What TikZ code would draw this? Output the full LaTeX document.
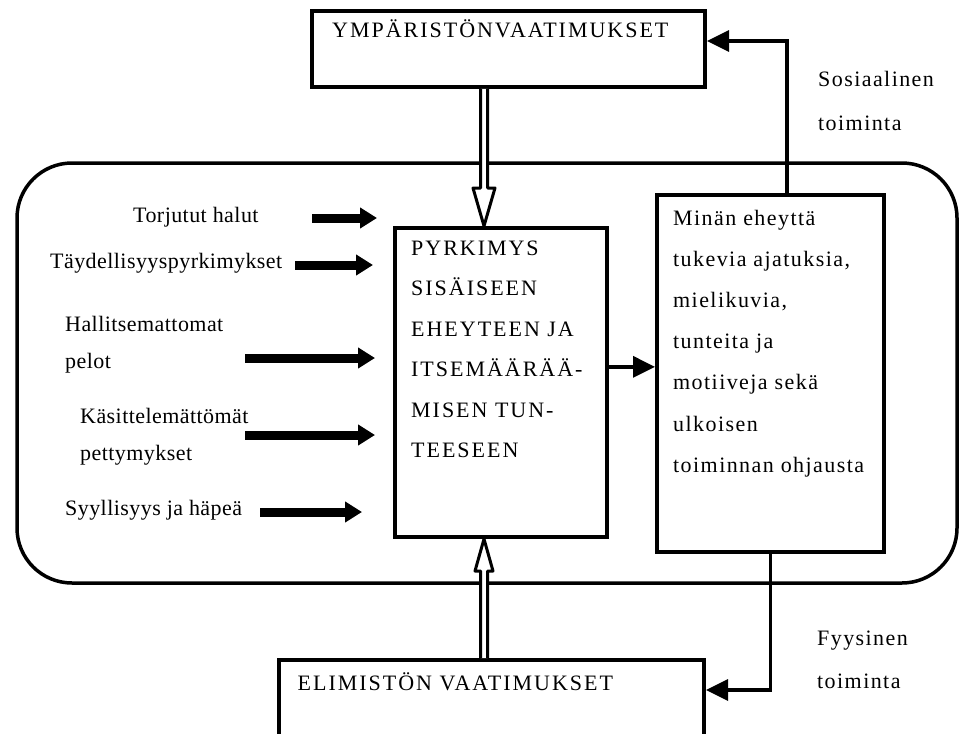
\documentclass[tikz,border=0pt]{standalone}
\usepackage{fontspec}
\setmainfont{Liberation Serif}
\newfontfamily\leftfont[LetterSpace=2]{Liberation Serif}
\newfontfamily\bodyfont[LetterSpace=6.5]{Liberation Serif}
\newfontfamily\capsfont[LetterSpace=9]{Liberation Serif}
\usetikzlibrary{arrows.meta,calc}

\begin{document}
\begin{tikzpicture}[x=1pt,y=-1pt,
  box/.style={draw, line width=4pt, inner sep=0pt, anchor=north west, fill=white},
  frame/.style={draw, line width=3.5pt, rounded corners=55pt, inner sep=0pt},
  lbl/.style={anchor=base west, inner sep=0pt, font=\leftfont\fontsize{22pt}{26pt}\selectfont},
  body/.style={anchor=base west, inner sep=0pt, font=\bodyfont\fontsize{22pt}{26pt}\selectfont},
  caps/.style={anchor=base west, inner sep=0pt, font=\capsfont\fontsize{22pt}{26pt}\selectfont},
  conn/.style={line width=3.5pt, -{Triangle[length=22pt,width=21pt]}},
  fat/.style={line width=9pt, -{Triangle[length=17pt,width=20pt]}},
  hollow/.style={draw, fill=white, line width=3pt, line join=round}]

\useasboundingbox (0,0) rectangle (960,733);
\clip (0,0) rectangle (960,733);

% outer rounded frame
\node[frame, minimum width=940pt, minimum height=420pt] (frame) at (487,373) {};

% boxes
\node[box, minimum width=393pt, minimum height=76pt] (ymp) at (310,9) {};
\node[box, minimum width=212pt, minimum height=309pt] (mid) at (393,226) {};
\node[box, minimum width=227pt, minimum height=357pt] (right) at (655,193) {};
\node[box, minimum width=425pt, minimum height=120pt] (elim) at (277,658) {};

% box texts
\node[caps] (ympt) at (332,38) {YMPÄRISTÖNVAATIMUKSET};
\node[caps] (elimt) at (297.5,690) {ELIMISTÖN VAATIMUKSET};

\foreach \t [count=\i from 0] in {PYRKIMYS, SISÄISEEN, EHEYTEEN JA, ITSEMÄÄRÄÄ-, MISEN TUN-, TEESEEN}
  \node[caps] (midt\i) at (411,255+40.5*\i) {\t};

\foreach \t [count=\i from 0] in {Minän eheyttä, {tukevia ajatuksia,}, {mielikuvia,}, tunteita ja, motiiveja sekä, ulkoisen, toiminnan ohjausta}
  \node[body] (rt\i) at (673,225+41.2*\i) {\t};

% influences on the left
\node[lbl] (t1) at (133,222) {Torjutut halut};
\node[lbl] (t2) at (50,268) {Täydellisyyspyrkimykset};
\node[lbl] (t3a) at (65,331) {Hallitsemattomat};
\node[lbl] (t3b) at (65,368) {pelot};
\node[lbl] (t4a) at (80,423) {Käsittelemättömät};
\node[lbl] (t4b) at (80,460) {pettymykset};
\node[lbl] (t5) at (65,515) {Syyllisyys ja häpeä};

\coordinate (a1s) at (312,218); \coordinate (a1e) at (377,218);
\coordinate (a2s) at (295,265); \coordinate (a2e) at (373,265);
\coordinate (a3s) at (245,358); \coordinate (a3e) at (375,358);
\coordinate (a4s) at (245,435); \coordinate (a4e) at (375,435);
\coordinate (a5s) at (260,512); \coordinate (a5e) at (362,512);
\foreach \k in {1,...,5} \draw[fat] (a\k s) -- (a\k e);

% action labels
\node[body] (sos1) at (818,87) {Sosiaalinen};
\node[body] (sos2) at (818,130) {toiminta};
\node[body] (fyy1) at (817,645) {Fyysinen};
\node[body] (fyy2) at (817,688) {toiminta};

% connectors
\coordinate (mr) at ($(mid.north east)!0.45!(mid.south east)$);
\draw[conn] (mr) -- (mr -| right.west);
\draw[conn] ($(right.north)+(16.5,0)$) |- ($(ymp.north east)!0.4!(ymp.south east)$);
\draw[conn] (right.south) |- ($(elim.north east)+(0,32)$);

% hollow double arrows into the central box
\coordinate (tA) at ($(mid.north)+(-17,0)$);
\draw[hollow] ($(tA |- ymp.south)+(-3.5,0)$) -- ($(tA)+(-3.5,-38)$) -- ($(tA)+(-11,-38)$) -- (tA)
  -- ($(tA)+(11,-38)$) -- ($(tA)+(3.5,-38)$) -- ($(tA |- ymp.south)+(3.5,0)$);
\coordinate (tB) at ($(mid.south)+(-17,0)$);
\draw[hollow] ($(tB |- elim.north)+(-3.5,0)$) -- ($(tB)+(-3.5,32)$) -- ($(tB)+(-9,32)$) -- (tB)
  -- ($(tB)+(9,32)$) -- ($(tB)+(3.5,32)$) -- ($(tB |- elim.north)+(3.5,0)$);
\end{tikzpicture}
\end{document}
